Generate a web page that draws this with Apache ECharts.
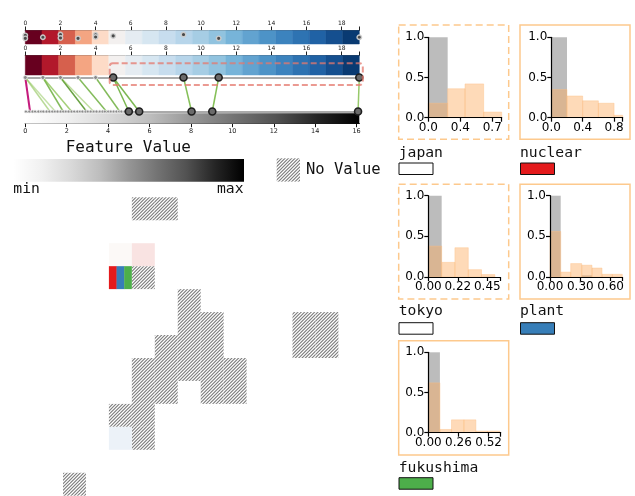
<!DOCTYPE html>
<html>
<head>
<meta charset="utf-8">
<script src="https://cdn.jsdelivr.net/npm/echarts@6/dist/echarts.min.js"></script>
<style>
  html, body { margin: 0; padding: 0; background: #fff; }
  #main { width: 635px; height: 496px; }
</style>
</head>
<body>
<div id="main"></div>
<script>
// ---------------- data ----------------
// discrete colour strip over 0–19 (20 steps)
const stripMax = 19;
const stripColors = ['#67001f','#b2182b','#d6604d','#f4a582','#fddbc7','#f3f0ef','#e5ecf2','#d6e6f1',
  '#c7ddee','#b7d5ea','#a6cde4','#91c3df','#77b4d9','#62a3d0','#4d93c7','#3c83be','#2e73b2','#2062a5','#154f8f','#093a72'];
const stripTicks = [0, 2, 4, 6, 8, 10, 12, 14, 16, 18];
const stripTickLabels = ['0', '2', '4', '6', '8', '10', '12', '14', '16', '18'];
const stripDots = [[0, 0.64], [0, 0.42], [1, 0.5], [2, 0.7], [2, 0.45], [3, 0.42], [4, 0.68], [4, 0.52], [5, 0.6], [9, 0.7], [11, 0.42], [19, 0.5]];

// node rows and the links between them
const upperSmall = [0, 1, 2, 3, 4];
const upperLarge = [5, 9, 11, 19];
const lowerSmall = [0.03, 0.19, 0.35, 0.47, 0.63, 0.76, 0.87, 1.03, 1.16, 1.30, 1.43, 1.56, 1.71, 1.83, 1.96, 2.09, 2.24, 2.36,
  2.51, 2.64, 2.76, 2.91, 3.02, 3.16, 3.31, 3.44, 3.60, 3.73, 3.84, 4.00, 4.13, 4.27, 4.40, 4.53, 4.64, 4.80];
const lowerLarge = [5.0, 5.5, 8.03, 9.03, 16.07];
const linkFrom = [0, 0, 0, 1, 1, 2, 2, 3, 4, 5, 5, 9, 11, 19];
const linkTo = [0.23, 1.19, 1.45, 1.83, 2.24, 2.96, 3.30, 3.92, 4.56, 5.0, 5.5, 8.03, 9.03, 16.07];

// grey value scale 0–16
const greyMax = 16.13;
const greyTicks = [0, 2, 4, 6, 8, 10, 12, 14, 16];
const greyTickLabels = ['0', '2', '4', '6', '8', '10', '12', '14', '16'];

// tile map (column, row)
const tileCols = 12, tileRows = 13;
const missingCells = [[3,0],[4,0],[3,3],[5,4],[5,5],[6,5],[10,5],[11,5],[4,6],[5,6],[6,6],[10,6],[11,6],
  [3,7],[4,7],[5,7],[6,7],[7,7],[3,8],[4,8],[6,8],[7,8],[2,9],[3,9],[3,10],[0,12]];
const valueCells = [[2,2],[3,2],[2,10]];
const valueCellColors = ['#fcf9f7', '#f9e3e2', '#ecf2f8'];
const termCells = [[2,3]];

// terms
const terms = ['japan', 'nuclear', 'tokyo', 'plant', 'fukushima'];
const termColors = ['#ffffff', '#e41a1c', '#ffffff', '#377eb8', '#4daf4a'];

// histograms: bin edges, grey heights, orange heights, x range and ticks
const japanEdges = [0, 0.218, 0.413, 0.623, 0.826];
const japanGrey = [1.0, 0, 0, 0];
const japanOrange = [0.18, 0.36, 0.42, 0.07];
const japanMax = 0.826, japanTicks = [0, 0.36, 0.72], japanTickLabels = ['0.0', '0.4', '0.7'];

const nuclearEdges = [0, 0.2, 0.4, 0.6, 0.8, 1.0];
const nuclearGrey = [1.0, 0, 0, 0, 0];
const nuclearOrange = [0.35, 0.27, 0.21, 0.18, 0.03];
const nuclearMax = 0.91, nuclearTicks = [0, 0.4, 0.8], nuclearTickLabels = ['0.0', '0.4', '0.8'];

const tokyoEdges = [0, 0.102, 0.203, 0.305, 0.406, 0.508];
const tokyoGrey = [1.0, 0, 0, 0, 0];
const tokyoOrange = [0.38, 0.18, 0.36, 0.09, 0.03];
const tokyoMax = 0.547, tokyoTicks = [0, 0.225, 0.45], tokyoTickLabels = ['0.00', '0.22', '0.45'];

const plantEdges = [0, 0.106, 0.205, 0.314, 0.416, 0.515, 0.617, 0.716];
const plantGrey = [1.0, 0, 0, 0.02, 0, 0, 0];
const plantOrange = [0.56, 0.06, 0.165, 0.145, 0.11, 0.033, 0.033];
const plantMax = 0.716, plantTicks = [0, 0.3, 0.6], plantTickLabels = ['0.00', '0.30', '0.60'];

const fukushimaEdges = [0, 0.1, 0.2, 0.307, 0.41, 0.51, 0.617];
const fukushimaGrey = [1.0, 0, 0, 0, 0, 0];
const fukushimaOrange = [0.62, 0.04, 0.16, 0.16, 0.02, 0.02];
const fukushimaMax = 0.624, fukushimaTicks = [0, 0.26, 0.52], fukushimaTickLabels = ['0.00', '0.26', '0.52'];

const histYTicks = [0, 0.5, 1.0];
const histYTickLabels = ['0.0', '0.5', '1.0'];

// ---------------- drawing ----------------
const MONO = "'DejaVu Sans Mono', monospace";
const SANS = "'DejaVu Sans', sans-serif";
const GREYS = [
  { offset: 0, color: '#ffffff' }, { offset: 0.125, color: '#f0f0f0' }, { offset: 0.25, color: '#d9d9d9' },
  { offset: 0.375, color: '#bdbdbd' }, { offset: 0.5, color: '#969696' }, { offset: 0.625, color: '#737373' },
  { offset: 0.75, color: '#525252' }, { offset: 0.875, color: '#252525' }, { offset: 1, color: '#000000' }
];

function makeHatch() {
  const s = 10;
  const cv = document.createElement('canvas');
  cv.width = s; cv.height = s;
  const ctx = cv.getContext('2d');
  ctx.fillStyle = '#ffffff';
  ctx.fillRect(0, 0, s, s);
  ctx.strokeStyle = '#7a7a7a';
  ctx.lineWidth = 1.1;
  for (let k = -1; k <= 7; k++) {
    const c = k * s / 3;
    ctx.beginPath();
    ctx.moveTo(c + 5, -5);
    ctx.lineTo(c - 15, 15);
    ctx.stroke();
  }
  return { image: cv, repeat: 'repeat' };
}
const hatch = makeHatch();

const chart = echarts.init(document.getElementById('main'), null, { renderer: 'canvas', width: 635, height: 496 });

const grids = [], xAxes = [], yAxes = [], series = [];
function addGrid(left, top, width, height) {
  grids.push({ left, top, width, height, containLabel: false, outerBoundsMode: 'none' });
  return grids.length - 1;
}
function hiddenAxis(g, min, max, extra) {
  return Object.assign({ type: 'value', gridIndex: g, min, max, show: false, splitLine: { show: false } }, extra || {});
}
function labelFor(ticks, labels, v) {
  const i = ticks.findIndex(t => Math.abs(t - v) < 1e-9);
  return i < 0 ? '' : labels[i];
}
function rectBetween(api, x0, y0, x1, y1) {
  const a = api.coord([x0, y0]), b = api.coord([x1, y1]);
  return { x: Math.min(a[0], b[0]), y: Math.min(a[1], b[1]), width: Math.abs(b[0] - a[0]), height: Math.abs(b[1] - a[1]) };
}

// strip axes (labelled, on top)
function stripAxis(g) {
  return {
    type: 'value', gridIndex: g, position: 'top', min: 0, max: stripMax,
    axisLine: { show: true, onZero: false, lineStyle: { color: '#555', width: 1.2 } },
    axisTick: { show: true, length: 4, customValues: stripTicks.concat([stripMax]), lineStyle: { color: '#222', width: 1 } },
    axisLabel: { show: true, customValues: stripTicks, formatter: v => labelFor(stripTicks, stripTickLabels, v),
      fontSize: 6, fontFamily: SANS, color: '#222', margin: 4 },
    splitLine: { show: false }
  };
}
function stripSeries(axisIdx) {
  return {
    type: 'custom', xAxisIndex: axisIdx, yAxisIndex: axisIdx, z: 2,
    data: stripColors.map((c, i) => [i * stripMax / stripColors.length, (i + 1) * stripMax / stripColors.length]),
    encode: { x: [0, 1] },
    renderItem: (p, api) => ({
      type: 'rect', shape: rectBetween(api, api.value(0), 1, api.value(1), 0),
      style: { fill: stripColors[p.dataIndex], stroke: stripColors[p.dataIndex], lineWidth: 0.5 }
    })
  };
}

// grid 0 / 1: the two colour strips
const g0 = addGrid(25.3, 30.5, 334, 13.5);
xAxes.push(stripAxis(g0)); yAxes.push(hiddenAxis(g0, 0, 1));
const g1 = addGrid(25.3, 55.5, 334, 19.5);
xAxes.push(stripAxis(g1)); yAxes.push(hiddenAxis(g1, 0, 1));
series.push(stripSeries(0), stripSeries(1));
series.push({
  type: 'scatter', xAxisIndex: 0, yAxisIndex: 0, z: 4, clip: false, symbolSize: 4.5,
  data: stripDots,
  itemStyle: { color: '#4a4a4a', borderColor: 'rgba(205,205,205,0.95)', borderWidth: 1.4, opacity: 1 }
});

// grid 2: node rows
const g2 = addGrid(25.3, 77.5, 334, 34);
xAxes.push({ type: 'value', gridIndex: g2, position: 'top', min: 0, max: stripMax,
  axisLine: { show: true, onZero: false, lineStyle: { color: '#8f8f8f', width: 1.5 } },
  axisTick: { show: false }, axisLabel: { show: false }, splitLine: { show: false } });
xAxes.push({ type: 'value', gridIndex: g2, position: 'bottom', min: 0, max: greyMax,
  axisLine: { show: true, onZero: false, lineStyle: { color: '#8f8f8f', width: 1.5 } },
  axisTick: { show: false }, axisLabel: { show: false }, splitLine: { show: false } });
yAxes.push(hiddenAxis(g2, 0, 1));
series.push({
  type: 'scatter', xAxisIndex: 2, yAxisIndex: 2, z: 4, clip: false, symbolSize: 4,
  data: upperSmall.map(v => [v, 1]),
  itemStyle: { color: '#8a8a8a', borderColor: '#e6e6e6', borderWidth: 1, opacity: 1 }
});
series.push({
  type: 'scatter', xAxisIndex: 2, yAxisIndex: 2, z: 5, clip: false, symbolSize: 7,
  data: upperLarge.map(v => [v, 1]),
  itemStyle: { color: '#6a6a6a', borderColor: '#1e1e1e', borderWidth: 1.6, opacity: 1 }
});
series.push({
  type: 'scatter', xAxisIndex: 3, yAxisIndex: 2, z: 4, clip: false, symbolSize: 3,
  data: lowerSmall.map(v => [v, 0]),
  itemStyle: { color: '#8a8a8a', borderColor: '#eeeeee', borderWidth: 0.8, opacity: 1 }
});
series.push({
  type: 'scatter', xAxisIndex: 3, yAxisIndex: 2, z: 5, clip: false, symbolSize: 7,
  data: lowerLarge.map(v => [v, 0]),
  itemStyle: { color: '#6a6a6a', borderColor: '#1e1e1e', borderWidth: 1.6, opacity: 1 }
});

// grid 3: grey scale bar and its axis
const g3 = addGrid(25.3, 113.3, 334, 10.4);
xAxes.push({ type: 'value', gridIndex: g3, position: 'bottom', min: 0, max: greyMax,
  axisLine: { show: true, onZero: false, lineStyle: { color: '#111', width: 1.2 } },
  axisTick: { show: true, length: 3.5, customValues: greyTicks, lineStyle: { color: '#111', width: 1 } },
  axisLabel: { show: true, customValues: greyTicks, formatter: v => labelFor(greyTicks, greyTickLabels, v),
    fontSize: 6.5, fontFamily: SANS, color: '#222', margin: 4 },
  splitLine: { show: false } });
yAxes.push(hiddenAxis(g3, 0, 1));
series.push({
  type: 'custom', xAxisIndex: 4, yAxisIndex: 3, z: 2,
  data: [[0, greyMax]], encode: { x: [0, 1] },
  renderItem: (p, api) => ({
    type: 'rect', shape: rectBetween(api, api.value(0), 1, api.value(1), 0),
    style: { fill: new echarts.graphic.LinearGradient(0, 0, 1, 0, GREYS) }
  })
});

// grid 4: tile map
const g4 = addGrid(63, 197.3, 275.4, 298.4);
xAxes.push(hiddenAxis(g4, 0, tileCols));
yAxes.push(hiddenAxis(g4, 0, tileRows, { inverse: true }));
series.push({
  type: 'custom', xAxisIndex: 5, yAxisIndex: 4, z: 2, data: missingCells, encode: { x: 0, y: 1 },
  renderItem: (p, api) => ({
    type: 'rect', shape: rectBetween(api, api.value(0), api.value(1), api.value(0) + 1, api.value(1) + 1),
    style: { fill: hatch }
  })
});
series.push({
  type: 'custom', xAxisIndex: 5, yAxisIndex: 4, z: 2, data: valueCells, encode: { x: 0, y: 1 },
  renderItem: (p, api) => ({
    type: 'rect', shape: rectBetween(api, api.value(0), api.value(1), api.value(0) + 1, api.value(1) + 1),
    style: { fill: valueCellColors[p.dataIndex] }
  })
});
const stripeColors = termColors.filter(c => c !== '#ffffff');
series.push({
  type: 'custom', xAxisIndex: 5, yAxisIndex: 4, z: 2, data: termCells, encode: { x: 0, y: 1 },
  renderItem: (p, api) => {
    const r = rectBetween(api, api.value(0), api.value(1), api.value(0) + 1, api.value(1) + 1);
    const w = r.width / stripeColors.length;
    return { type: 'group', children: stripeColors.map((c, i) => ({
      type: 'rect', shape: { x: r.x + i * w, y: r.y, width: w + (i < stripeColors.length - 1 ? 0.3 : 0), height: r.height },
      style: { fill: c } })) };
  }
});

// histogram panels
const histData = [
  { edges: japanEdges, grey: japanGrey, orange: japanOrange, max: japanMax, ticks: japanTicks, labels: japanTickLabels },
  { edges: nuclearEdges, grey: nuclearGrey, orange: nuclearOrange, max: nuclearMax, ticks: nuclearTicks, labels: nuclearTickLabels },
  { edges: tokyoEdges, grey: tokyoGrey, orange: tokyoOrange, max: tokyoMax, ticks: tokyoTicks, labels: tokyoTickLabels },
  { edges: plantEdges, grey: plantGrey, orange: plantOrange, max: plantMax, ticks: plantTicks, labels: plantTickLabels },
  { edges: fukushimaEdges, grey: fukushimaGrey, orange: fukushimaOrange, max: fukushimaMax, ticks: fukushimaTicks, labels: fukushimaTickLabels }
];
// panel layout: plot area and surrounding box
const histLayout = [
  { left: 428.3, top: 37.3, width: 73.4, height: 80.4, box: [398.7, 25, 110, 114.3], dashed: true, label: [398.7, 153], swatch: [399, 163] },
  { left: 551.3, top: 37.3, width: 71.4, height: 80.4, box: [520, 25, 110, 114.3], dashed: false, label: [520, 153], swatch: [520.5, 163] },
  { left: 428.3, top: 195.7, width: 71.7, height: 81.3, box: [398.7, 184.3, 110, 114.7], dashed: true, label: [398.7, 311], swatch: [399, 322.7] },
  { left: 550, top: 195.7, width: 72.3, height: 81.3, box: [520, 184.3, 110, 114.7], dashed: false, label: [520, 311], swatch: [520.5, 322.7] },
  { left: 428.3, top: 352.3, width: 72.4, height: 80.4, box: [398.7, 340.7, 110, 114.3], dashed: false, label: [398.7, 467.7], swatch: [399, 477.7] }
];
function histBars(axisIdx, edges, heights, fill, stroke) {
  return {
    type: 'custom', xAxisIndex: axisIdx, yAxisIndex: axisIdx - 1, z: 2,
    data: heights.map((h, k) => [edges[k], edges[k + 1], h]),
    encode: { x: [0, 1], y: 2 },
    renderItem: (p, api) => {
      const r = rectBetween(api, api.value(0), api.value(2), api.value(1), 0);
      const c = echarts.graphic.clipRectByRect(r, p.coordSys);
      if (!c || c.height <= 0) return null;
      return { type: 'rect', shape: c, style: { fill, stroke, lineWidth: stroke ? 0.8 : 0 } };
    }
  };
}
histData.forEach((h, i) => {
  const L = histLayout[i];
  const g = addGrid(L.left, L.top, L.width, L.height);
  xAxes.push({ type: 'value', gridIndex: g, min: 0, max: h.max, z: 10,
    axisLine: { show: true, onZero: false, lineStyle: { color: '#000', width: 1.2 } },
    axisTick: { show: true, length: 4, customValues: h.ticks.concat([h.max]), lineStyle: { color: '#000', width: 1.2 } },
    axisLabel: { show: true, customValues: h.ticks, formatter: v => labelFor(h.ticks, h.labels, v),
      fontSize: 12, fontFamily: SANS, color: '#000', margin: 4 },
    splitLine: { show: false } });
  yAxes.push({ type: 'value', gridIndex: g, min: 0, max: 1, z: 10,
    axisLine: { show: true, onZero: false, lineStyle: { color: '#000', width: 1.2 } },
    axisTick: { show: true, length: 4, customValues: histYTicks, lineStyle: { color: '#000', width: 1.2 } },
    axisLabel: { show: true, customValues: histYTicks, formatter: v => labelFor(histYTicks, histYTickLabels, v),
      fontSize: 12, fontFamily: SANS, color: '#000', margin: 4 },
    splitLine: { show: false } });
  const ax = xAxes.length - 1;
  series.push(histBars(ax, h.edges, h.grey, '#bcbcbc', null));
  series.push(histBars(ax, h.edges, h.orange, 'rgba(253,174,97,0.45)', 'rgba(253,190,130,0.5)'));
});

chart.setOption({
  animation: false,
  backgroundColor: '#ffffff',
  grid: grids, xAxis: xAxes, yAxis: yAxes, series: series
});

// ---------- annotation layer ----------
const elements = [];

// links between node rows, placed through the axes of grid 2
const yUpper = chart.convertToPixel({ yAxisIndex: 2 }, 1);
const yLower = chart.convertToPixel({ yAxisIndex: 2 }, 0);
const greenShades = ['rgba(127,188,65,0.55)', 'rgba(127,188,65,0.45)', 'rgba(100,170,50,0.8)', 'rgba(127,188,65,0.7)',
  'rgba(77,146,33,0.85)', 'rgba(127,188,65,0.5)', 'rgba(100,170,50,0.8)', 'rgba(100,170,50,0.8)',
  'rgba(100,170,50,0.85)', 'rgba(100,170,50,0.85)', 'rgba(120,185,70,0.9)', 'rgba(120,185,70,0.9)', 'rgba(140,195,90,0.9)'];
linkFrom.forEach((f, i) => {
  const x1 = chart.convertToPixel({ xAxisIndex: 2 }, f);
  const x2 = chart.convertToPixel({ xAxisIndex: 3 }, linkTo[i]);
  elements.push({
    type: 'line', z: 1, silent: true,
    shape: { x1, y1: yUpper, x2, y2: yLower },
    style: { stroke: i === 0 ? '#c51b7d' : greenShades[i - 1], lineWidth: i === 0 ? 2 : 1.5 }
  });
});

// dashed highlight around the upper nodes 5–19
const hx0 = chart.convertToPixel({ xAxisIndex: 1 }, 4.8);
const hx1 = chart.convertToPixel({ xAxisIndex: 1 }, 19.2);
elements.push({
  type: 'rect', z: 6, silent: true,
  shape: { x: hx0, y: 63.3, width: hx1 - hx0, height: 21.7, r: 3 },
  style: { fill: null, stroke: 'rgba(228,120,110,0.75)', lineWidth: 2, lineDash: [6, 3] }
});

// feature value legend
elements.push({ type: 'text', x: 128.3, y: 147.5, style: { text: 'Feature Value', font: `16px ${MONO}`, fill: '#111', align: 'center', verticalAlign: 'middle' } });
elements.push({ type: 'rect', shape: { x: 13.3, y: 159, width: 230.7, height: 22.7 },
  style: { fill: new echarts.graphic.LinearGradient(0, 0, 1, 0, GREYS) } });
elements.push({ type: 'text', x: 13.3, y: 189.5, style: { text: 'min', font: `14.7px ${MONO}`, fill: '#111', align: 'left', verticalAlign: 'middle' } });
elements.push({ type: 'text', x: 243.5, y: 189.5, style: { text: 'max', font: `14.7px ${MONO}`, fill: '#111', align: 'right', verticalAlign: 'middle' } });
elements.push({ type: 'rect', shape: { x: 276.7, y: 158.3, width: 23.3, height: 23.3 }, style: { fill: hatch } });
elements.push({ type: 'text', x: 306, y: 169.5, style: { text: 'No Value', font: `15.5px ${MONO}`, fill: '#111', align: 'left', verticalAlign: 'middle' } });

// histogram boxes and term legends
histLayout.forEach((L, i) => {
  elements.push({ type: 'rect', z: 0, silent: true,
    shape: { x: L.box[0], y: L.box[1], width: L.box[2], height: L.box[3] },
    style: { fill: null, stroke: '#fdc98d', lineWidth: 1.5, lineDash: L.dashed ? [7, 4] : null } });
  elements.push({ type: 'text', x: L.label[0], y: L.label[1],
    style: { text: terms[i], font: `14.7px ${MONO}`, fill: '#111', align: 'left', verticalAlign: 'middle' } });
  elements.push({ type: 'rect', shape: { x: L.swatch[0], y: L.swatch[1], width: 34, height: 11.5 },
    style: { fill: termColors[i], stroke: '#111', lineWidth: 1 } });
});

chart.setOption({ graphic: { elements } });
</script>
</body>
</html>
